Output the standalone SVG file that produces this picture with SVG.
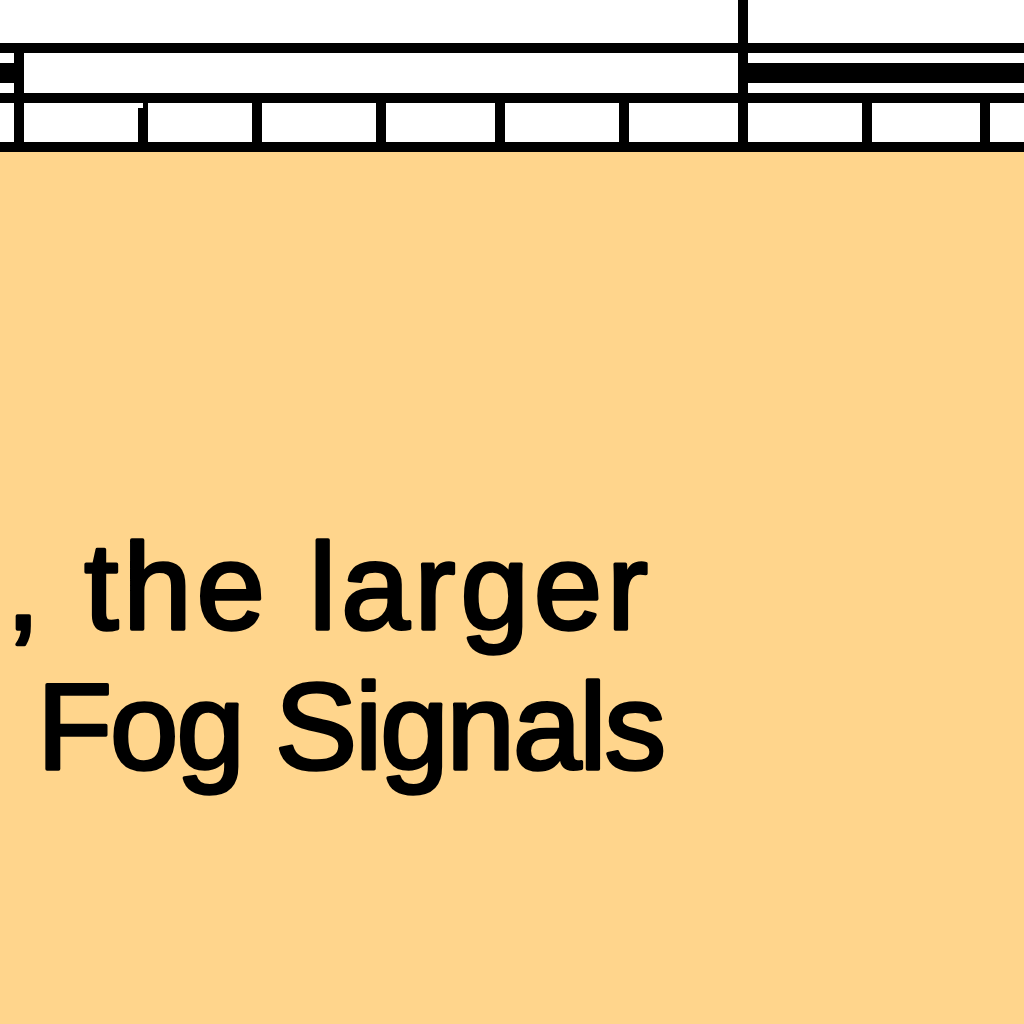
<svg xmlns="http://www.w3.org/2000/svg" width="1024" height="1024" viewBox="0 0 1024 1024">
  <style>
    .bg { fill: #FFD58C; }
    .ink { fill: #000000; }
    .lbl { font-family: "Liberation Sans", Arial, sans-serif; font-size: 123px; fill: #000000; stroke: #000000; stroke-width: 3.5px; stroke-linejoin: round; }
  </style>
  <rect x="0" y="0" width="1024" height="1024" fill="#FFFFFF"/>
  <rect class="bg" x="0" y="152" width="1024" height="872"/>
  <g id="frame">
    <rect class="ink" x="0" y="43" width="1024" height="10"/>
    <rect class="ink" x="0" y="93" width="1024" height="10"/>
    <rect class="ink" x="0" y="142" width="1024" height="10"/>
    <rect class="ink" x="738" y="0" width="10" height="152"/>
    <rect class="ink" x="14" y="53" width="10" height="99"/>
    <rect class="ink" x="0" y="63" width="14" height="20"/>
    <rect class="ink" x="748" y="63" width="276" height="20"/>
  </g>
  <g id="cells">
    <path class="ink" d="M143 103 H148 V142 H138 V108 H143 Z"/>
    <rect class="ink" x="252" y="103" width="10" height="39"/>
    <rect class="ink" x="376" y="103" width="10" height="39"/>
    <rect class="ink" x="495" y="103" width="10" height="39"/>
    <rect class="ink" x="619" y="103" width="10" height="39"/>
    <rect class="ink" x="862" y="103" width="10" height="39"/>
    <rect class="ink" x="980" y="103" width="10" height="39"/>
  </g>
  <g id="label">
    <text class="lbl" x="6" y="629" textLength="642" lengthAdjust="spacing">, the larger</text>
    <text class="lbl" x="37" y="769" textLength="629" lengthAdjust="spacing">Fog Signals</text>
  </g>
</svg>
